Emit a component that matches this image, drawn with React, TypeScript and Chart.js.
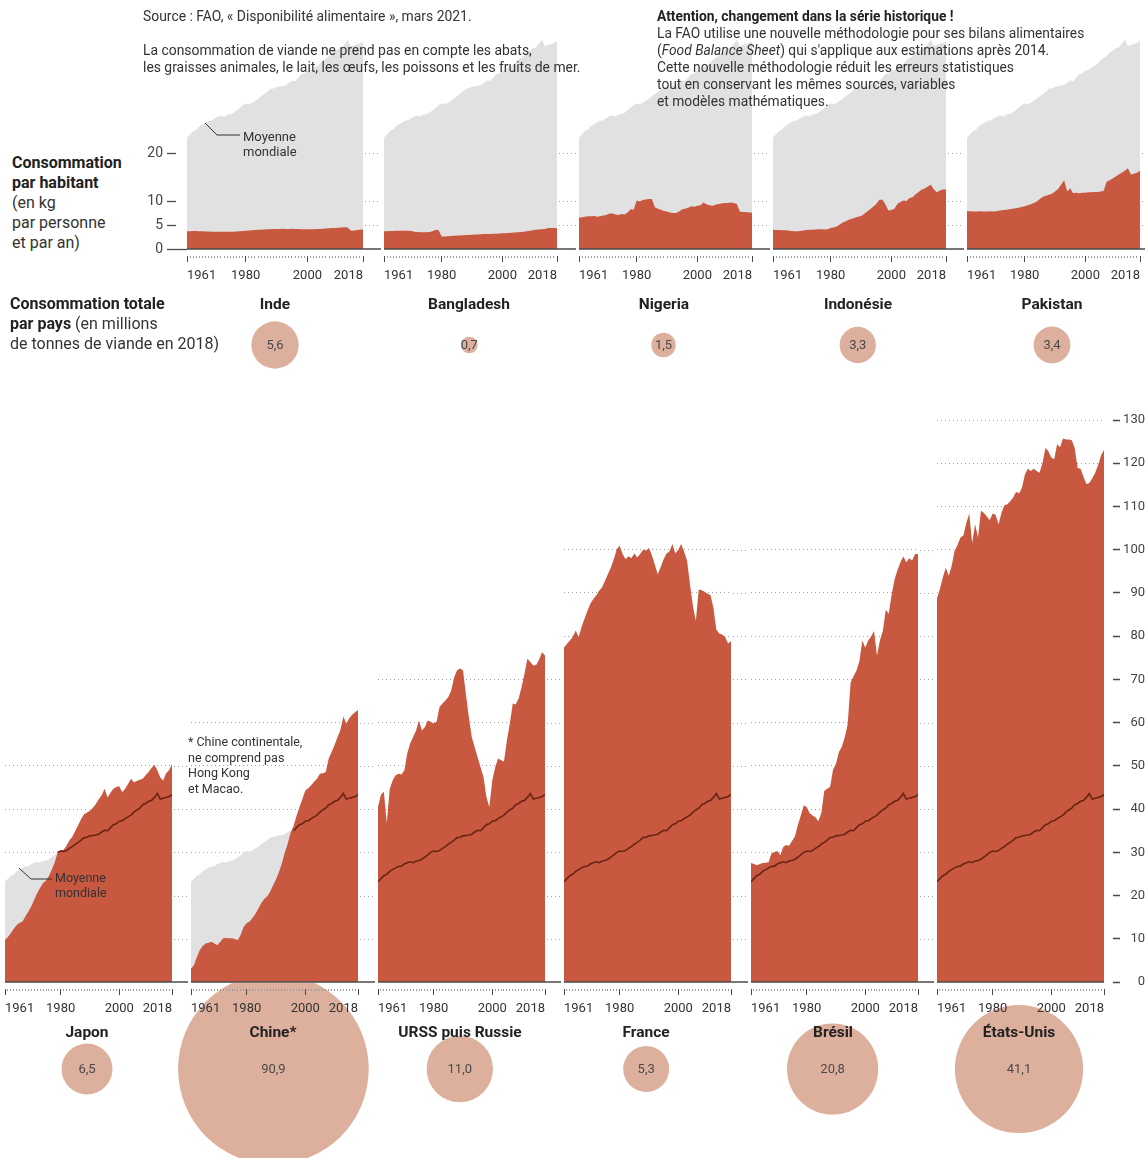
import React, { useEffect, useRef } from 'react';
import { Chart, registerables } from 'chart.js';

Chart.register(...registerables);

// ---------- DATA ----------
const FIRST_YEAR = 1961;
const LAST_YEAR = 2018;
const YEARS: number[] = Array.from({ length: LAST_YEAR - FIRST_YEAR + 1 }, (_, i) => FIRST_YEAR + i);
const MAJOR_YEARS = [1961, 1980, 2000, 2018];

// kg per person per year
const WORLD = [
  23.2, 23.9, 24.6, 24.9, 25.6, 26.0, 26.4, 26.7, 26.8, 27.3,
  27.6, 27.8, 27.6, 28.0, 28.1, 28.4, 28.9, 29.4, 30.0, 30.3,
  30.2, 30.4, 30.9, 31.3, 31.9, 32.3, 32.8, 33.4, 33.5, 33.8,
  33.9, 34.0, 34.2, 34.7, 35.1, 35.0, 35.7, 36.4, 36.6, 37.2,
  37.3, 37.8, 38.2, 38.6, 39.3, 39.8, 40.2, 41.0, 41.3, 41.8,
  42.0, 42.7, 43.6, 42.3, 42.5, 42.7, 42.9, 43.3,
];

const INDE = [
  3.7, 3.7, 3.75, 3.75, 3.7, 3.7, 3.65, 3.65, 3.6, 3.6,
  3.6, 3.6, 3.6, 3.6, 3.6, 3.6, 3.65, 3.7, 3.75, 3.8,
  3.85, 3.9, 3.95, 4.0, 4.0, 4.05, 4.1, 4.1, 4.15, 4.2,
  4.2, 4.25, 4.2, 4.2, 4.25, 4.2, 4.15, 4.1, 4.1, 4.1,
  4.1, 4.1, 4.15, 4.2, 4.25, 4.3, 4.35, 4.4, 4.4, 4.45,
  4.5, 4.55, 4.5, 3.85, 3.8, 3.95, 4.0, 4.05,
];

const BANGLADESH = [
  3.7, 3.7, 3.75, 3.75, 3.8, 3.8, 3.8, 3.8, 3.8, 3.75,
  3.6, 3.55, 3.5, 3.5, 3.5, 3.55, 3.7, 4.0, 3.9, 2.6,
  2.6, 2.65, 2.7, 2.75, 2.8, 2.8, 2.85, 2.9, 2.9, 2.95,
  3.0, 3.0, 3.05, 3.1, 3.1, 3.15, 3.2, 3.2, 3.25, 3.3,
  3.3, 3.35, 3.4, 3.45, 3.5, 3.55, 3.6, 3.7, 3.8, 3.9,
  4.0, 4.05, 4.1, 4.15, 4.4, 4.4, 4.35, 4.3,
];

const NIGERIA = [
  6.5, 6.6, 6.7, 6.8, 6.8, 6.9, 6.7, 6.8, 7.0, 7.1,
  7.4, 7.4, 7.2, 7.1, 7.3, 7.2, 7.6, 8.3, 8.2, 10.1,
  9.9, 10.2, 10.3, 10.4, 10.4, 8.7, 8.4, 8.2, 7.9, 7.8,
  7.6, 7.5, 7.5, 7.8, 8.3, 8.4, 8.6, 8.9, 8.8, 9.0,
  9.1, 9.7, 9.3, 9.1, 9.0, 9.2, 9.4, 9.5, 9.6, 9.6,
  9.7, 9.6, 9.4, 7.8, 7.7, 7.7, 7.6, 7.6,
];

const INDONESIE = [
  4.0, 3.95, 3.95, 3.9, 3.9, 3.85, 3.75, 3.7, 3.7, 3.75,
  3.85, 3.95, 4.0, 4.0, 4.05, 4.1, 4.1, 4.05, 4.1, 4.35,
  4.5, 4.7, 5.1, 5.5, 5.8, 6.1, 6.3, 6.5, 6.7, 6.9,
  7.3, 7.8, 8.3, 8.8, 9.4, 10.2, 10.3, 9.3, 8.0, 8.1,
  8.4, 9.4, 9.8, 10.1, 10.0, 10.6, 10.8, 11.4, 11.9, 12.4,
  12.6, 13.0, 13.4, 12.4, 11.8, 12.2, 12.4, 12.4,
];

const PAKISTAN = [
  7.9, 7.85, 7.8, 7.8, 7.85, 7.8, 7.8, 7.8, 7.85, 7.8,
  7.9, 8.0, 8.1, 8.2, 8.3, 8.4, 8.5, 8.6, 8.75, 8.9,
  9.1, 9.3, 9.6, 9.9, 10.4, 10.9, 11.1, 11.3, 11.5, 12.0,
  12.5, 13.4, 14.3, 12.0, 12.6, 11.6, 11.7, 11.6, 11.7, 11.7,
  11.8, 11.8, 11.9, 11.9, 12.0, 12.1, 14.0, 14.3, 14.7, 15.1,
  15.5, 15.9, 16.3, 16.8, 15.5, 15.7, 15.9, 16.3,
];

const JAPON = [
  9.7, 10.4, 11.3, 12.3, 13.2, 13.7, 14.0, 15.2, 16.3, 17.5,
  19.1, 20.6, 21.8, 22.9, 23.5, 24.5, 26.0, 27.7, 30.0, 30.4,
  30.6, 31.5, 32.8, 33.6, 35.0, 36.3, 37.7, 38.8, 39.2, 39.6,
  40.3, 41.2, 42.3, 43.2, 44.7, 42.7, 43.8, 44.7, 45.1, 45.3,
  43.9, 44.7, 45.8, 47.0, 46.2, 46.5, 46.8, 47.0, 47.8, 48.6,
  49.5, 50.2, 49.0, 47.3, 46.6, 48.3, 49.0, 50.4,
];

const CHINE = [
  3.1, 3.9, 5.8, 7.4, 8.3, 8.9, 9.1, 9.3, 8.9, 8.5,
  9.3, 10.1, 10.2, 10.1, 10.1, 9.9, 9.7, 11.0, 12.8, 13.6,
  14.0, 14.8, 15.8, 17.0, 18.3, 19.2, 19.8, 20.9, 22.3, 23.7,
  25.4, 27.4, 29.9, 32.0, 34.6, 36.1, 38.4, 40.4, 42.3, 44.3,
  44.8, 45.5, 46.3, 47.0, 48.2, 48.3, 48.6, 51.7, 53.2, 54.8,
  56.6, 58.3, 61.4, 59.8, 61.0, 61.8, 62.4, 62.9,
];

const URSS = [
  40.5, 43.3, 44.0, 36.7, 44.7, 46.6, 47.8, 48.2, 48.0, 49.0,
  52.9, 55.2, 56.7, 58.2, 60.5, 58.2, 59.0, 60.5, 60.2, 59.8,
  60.2, 63.6, 64.4, 65.1, 65.9, 67.4, 70.5, 72.1, 72.5, 72.1,
  66.7, 61.3, 56.7, 54.3, 52.0, 49.7, 47.4, 42.8, 40.5, 46.6,
  49.7, 51.7, 51.3, 51.0, 55.9, 59.8, 64.4, 64.2, 65.6, 68.2,
  71.3, 74.8, 74.0, 73.2, 73.3, 74.6, 76.3, 75.5,
];

const FRANCE = [
  77.4, 78.2, 79.0, 79.8, 81.3, 79.8, 82.1, 84.0, 85.9, 87.5,
  88.6, 89.4, 90.5, 91.3, 92.8, 94.4, 95.9, 97.8, 100.1, 100.9,
  99.0, 97.8, 98.5, 98.0, 99.1, 98.2, 99.0, 100.0, 99.8, 100.4,
  98.7, 96.5, 94.3, 96.0, 97.8, 99.1, 99.6, 101.3, 99.1, 100.0,
  101.3, 99.5, 97.5, 92.0, 87.0, 83.5, 90.8, 90.6, 90.3, 89.8,
  89.5, 86.5, 81.5, 80.6, 80.4, 79.8, 78.3, 78.9,
];

const BRESIL = [
  27.5, 27.3, 27.0, 27.3, 27.5, 27.6, 27.7, 29.7, 30.1, 30.3,
  29.3, 31.2, 31.7, 31.5, 32.6, 33.7, 36.3, 38.5, 40.9, 40.5,
  39.1, 38.5, 38.1, 37.2, 39.1, 44.2, 44.7, 45.1, 49.1, 50.4,
  53.2, 54.4, 56.6, 59.6, 69.3, 70.7, 72.0, 74.2, 79.0, 77.3,
  79.0, 79.9, 81.2, 75.5, 79.0, 81.2, 86.1, 85.2, 89.6, 93.1,
  95.3, 97.1, 98.4, 97.1, 98.0, 97.5, 99.0, 99.0,
];

const ETATS_UNIS = [
  88.7, 90.9, 93.6, 95.8, 94.0, 96.2, 99.7, 101.1, 102.8, 103.3,
  106.1, 108.4, 101.5, 105.9, 102.8, 109.0, 108.5, 107.7, 106.8, 108.4,
  108.1, 105.9, 108.5, 110.3, 110.5, 111.2, 112.1, 113.4, 113.0, 114.3,
  117.4, 118.7, 118.2, 118.7, 118.2, 117.8, 120.0, 123.5, 122.8, 121.3,
  120.9, 124.4, 123.7, 125.7, 125.5, 125.5, 125.3, 123.5, 118.9, 118.7,
  116.9, 115.2, 115.4, 116.5, 117.8, 119.6, 121.8, 123.1,
];

const TOP_NAMES = ['Inde', 'Bangladesh', 'Nigeria', 'Indonésie', 'Pakistan'];
const TOP_SERIES = [INDE, BANGLADESH, NIGERIA, INDONESIE, PAKISTAN];
const TOP_TOTALS = [5.6, 0.7, 1.5, 3.3, 3.4]; // millions of tonnes, 2018

const BOTTOM_NAMES = ['Japon', 'Chine*', 'URSS puis Russie', 'France', 'Brésil', 'États-Unis'];
const BOTTOM_SERIES = [JAPON, CHINE, URSS, FRANCE, BRESIL, ETATS_UNIS];
const BOTTOM_TOTALS = [6.5, 90.9, 11.0, 5.3, 20.8, 41.1];

const TOP_Y_TICKS = [0, 5, 10, 20];
const BOTTOM_Y_TICKS = [0, 10, 20, 30, 40, 50, 60, 70, 80, 90, 100, 110, 120, 130];

// ---------- STYLE / LAYOUT ----------
const PAGE_W = 1145;
const FONT = 'Roboto, "Noto Sans", "DejaVu Sans", sans-serif';
const RED = '#c8583f';
const GRAY_AREA = '#e1e1e1';
const WORLD_LINE = '#6a2315';
const GRID = '#9e9e9e';
const AXIS = '#4a4a4a';
const MINOR_TICK = '#9a9a9a';
const BUBBLE = '#ddb09e';
const TEXT = '#333333';

const PAD_TOP = 12;
const X_AXIS_H = 38;

const TOP_ROW = { plotLefts: [187, 381, 576, 770, 964], plotWidth: 176, areaTop: 33, areaBottom: 249, yMax: 45, axisW: 47 };
const BOTTOM_ROW = { plotLefts: [2, 188, 375, 561, 748, 934], plotWidth: 170, areaTop: 420, areaBottom: 982, yMax: 130 };
const BOTTOM_GRID_MAX = [50, 60, 70, 100, 100, 130];
const TOP_GRID_MAX = 20;
const BUBBLE_SCALE = 10; // radius px per sqrt(million tonnes)

type Geom = { left: number; top: number; width: number; height: number; axisW: number; gapRight: number; axis: 'left' | 'right' | 'none' };

function topGeom(i: number): Geom {
  const pl = TOP_ROW.plotLefts[i];
  const next = i < TOP_ROW.plotLefts.length - 1 ? TOP_ROW.plotLefts[i + 1] : PAGE_W;
  const axisW = i === 0 ? TOP_ROW.axisW : 0;
  const left = pl - axisW;
  return {
    left,
    top: TOP_ROW.areaTop - PAD_TOP,
    width: next - left,
    height: PAD_TOP + (TOP_ROW.areaBottom - TOP_ROW.areaTop) + X_AXIS_H,
    axisW,
    gapRight: next - pl - TOP_ROW.plotWidth,
    axis: i === 0 ? 'left' : 'none',
  };
}

function bottomGeom(i: number): Geom {
  const pl = BOTTOM_ROW.plotLefts[i];
  const last = i === BOTTOM_ROW.plotLefts.length - 1;
  const next = last ? PAGE_W : BOTTOM_ROW.plotLefts[i + 1];
  const width = next - pl;
  return {
    left: pl,
    top: BOTTOM_ROW.areaTop - PAD_TOP,
    width,
    height: PAD_TOP + (BOTTOM_ROW.areaBottom - BOTTOM_ROW.areaTop) + X_AXIS_H,
    axisW: last ? width - BOTTOM_ROW.plotWidth : 0,
    gapRight: last ? 0 : width - BOTTOM_ROW.plotWidth,
    axis: last ? 'right' : 'none',
  };
}

const fmt = (v: number) => v.toFixed(1).replace('.', ',');

// gridlines continued into the gap at the right of each panel + baseline on top
const gapGrid = {
  id: 'gapGrid',
  beforeDatasetsDraw(chart: any, _a: any, opts: any) {
    const { ctx, chartArea } = chart;
    const ys = chart.scales.y;
    const x0 = chartArea.right;
    const x1 = chartArea.right + (opts.gapRight || 0);
    if (x1 - x0 < 1) return;
    ctx.save();
    ctx.strokeStyle = GRID;
    ctx.lineWidth = 1;
    ctx.setLineDash([1, 3]);
    ys.ticks.forEach((t: any) => {
      if (t.value <= 0 || t.value > opts.gridMax) return;
      const py = Math.round(ys.getPixelForValue(t.value)) + 0.5;
      ctx.beginPath();
      ctx.moveTo(x0 + 2, py);
      ctx.lineTo(x1, py);
      ctx.stroke();
    });
    ctx.restore();
  },
  afterDatasetsDraw(chart: any, _a: any, opts: any) {
    const { ctx, chartArea } = chart;
    const ys = chart.scales.y;
    const py = ys.getPixelForValue(0);
    ctx.save();
    ctx.strokeStyle = AXIS;
    ctx.lineWidth = 1.5;
    ctx.setLineDash([]);
    ctx.beginPath();
    ctx.moveTo(chartArea.left, py);
    ctx.lineTo(chartArea.right + (opts.gapRight || 0), py);
    ctx.stroke();
    ctx.restore();
  },
};

const bubbleLabels = {
  id: 'bubbleLabels',
  afterDatasetsDraw(chart: any) {
    const { ctx } = chart;
    const meta = chart.getDatasetMeta(0);
    const raw = chart.data.datasets[0].data;
    ctx.save();
    ctx.font = `13px ${FONT}`;
    ctx.fillStyle = '#4a4a4a';
    ctx.textAlign = 'center';
    ctx.textBaseline = 'middle';
    meta.data.forEach((el: any, i: number) => ctx.fillText(fmt(raw[i].v), el.x, el.y + 1));
    ctx.restore();
  },
};

function panelConfig(country: number[], g: Geom, yMax: number, yTicks: number[], gridMax: number, showLine: boolean): any {
  const pts = (arr: number[]) => YEARS.map((x, i) => ({ x, y: arr[i] }));
  const datasets: any[] = [];
  if (showLine) {
    datasets.push({
      data: pts(WORLD),
      borderColor: WORLD_LINE,
      borderWidth: 1.6,
      fill: false,
      pointRadius: 0,
      segment: {
        borderColor: (c: any) =>
          country[c.p0DataIndex] >= WORLD[c.p0DataIndex] && country[c.p1DataIndex] >= WORLD[c.p1DataIndex]
            ? WORLD_LINE
            : 'rgba(0,0,0,0)',
      },
    });
  }
  datasets.push({ data: pts(country), fill: 'origin', backgroundColor: RED, borderWidth: 0, borderColor: 'rgba(0,0,0,0)', pointRadius: 0 });
  datasets.push({ data: pts(WORLD), fill: 'origin', backgroundColor: GRAY_AREA, borderWidth: 0, borderColor: 'rgba(0,0,0,0)', pointRadius: 0 });

  const isLeft = g.axis === 'left';
  const isRight = g.axis === 'right';
  return {
    type: 'line',
    data: { datasets },
    plugins: [gapGrid],
    options: {
      responsive: true,
      maintainAspectRatio: false,
      animation: false,
      devicePixelRatio: 1,
      events: [],
      layout: { padding: { top: PAD_TOP, right: g.gapRight, left: 0, bottom: 0 } },
      elements: { line: { tension: 0 }, point: { radius: 0 } },
      plugins: {
        legend: { display: false },
        tooltip: { enabled: false },
        gapGrid: { gapRight: g.gapRight, gridMax },
      },
      scales: {
        x: {
          type: 'linear',
          min: FIRST_YEAR,
          max: LAST_YEAR,
          afterBuildTicks: (s: any) => {
            s.ticks = YEARS.map((v) => ({ value: v }));
          },
          afterFit: (s: any) => {
            s.height = X_AXIS_H;
          },
          ticks: {
            autoSkip: false,
            maxRotation: 0,
            minRotation: 0,
            align: 'inner',
            padding: 3,
            color: TEXT,
            font: { family: FONT, size: 13 },
            callback: (v: any) => (MAJOR_YEARS.includes(Number(v)) ? String(v) : ''),
          },
          grid: {
            drawOnChartArea: false,
            drawTicks: true,
            tickLength: 16,
            tickWidth: 1,
            tickColor: (c: any) => (c.tick && MAJOR_YEARS.includes(c.tick.value) ? AXIS : MINOR_TICK),
            tickBorderDash: (c: any) => (c.tick && MAJOR_YEARS.includes(c.tick.value) ? [0, 7, 6, 100] : [0, 7, 2, 100]),
          },
          border: { display: false },
        },
        y: {
          type: 'linear',
          position: isRight ? 'right' : 'left',
          min: 0,
          max: yMax,
          afterBuildTicks: (s: any) => {
            s.ticks = yTicks.map((v) => ({ value: v }));
          },
          afterFit: (s: any) => {
            s.width = g.axisW;
          },
          ticks: {
            display: isLeft || isRight,
            padding: isLeft ? 4 : 3,
            crossAlign: isRight ? 'far' : 'near',
            color: '#444',
            font: { family: FONT, size: isLeft ? 14 : 13 },
            callback: (v: any) => String(v),
          },
          grid: {
            drawTicks: isLeft || isRight,
            tickLength: isLeft ? 20 : 16,
            tickWidth: 1.3,
            tickColor: AXIS,
            tickBorderDash: (c: any) => (isLeft ? (c.tick && c.tick.value === 0 ? [] : [9, 100]) : [0, 9, 7, 100]),
            lineWidth: 1,
            color: (c: any) => {
              const v = c.tick ? c.tick.value : 0;
              return v > 0 && v <= gridMax ? GRID : 'rgba(0,0,0,0)';
            },
          },
          border: { display: false, dash: [1, 3] },
        },
      },
    },
  };
}

function bubbleConfig(totals: number[], centers: number[], height: number, centerY: number): any {
  const unit = (centers[centers.length - 1] - centers[0]) / (centers.length - 1);
  const xMin = -centers[0] / unit;
  const xMax = xMin + PAGE_W / unit;
  return {
    type: 'bubble',
    data: {
      datasets: [
        {
          data: totals.map((v, i) => ({ x: i, y: 0, r: BUBBLE_SCALE * Math.sqrt(v), v })),
          backgroundColor: BUBBLE,
          borderWidth: 0,
          clip: false,
        },
      ],
    },
    plugins: [bubbleLabels],
    options: {
      responsive: true,
      maintainAspectRatio: false,
      animation: false,
      devicePixelRatio: 1,
      events: [],
      layout: { padding: 0, autoPadding: false },
      plugins: { legend: { display: false }, tooltip: { enabled: false } },
      scales: {
        x: { type: 'linear', display: false, min: xMin, max: xMax },
        y: { type: 'linear', display: false, min: -(height - centerY), max: centerY },
      },
    },
  };
}

const TOP_CENTERS = TOP_ROW.plotLefts.map((l) => l + TOP_ROW.plotWidth / 2);
const BOTTOM_CENTERS = BOTTOM_ROW.plotLefts.map((l) => l + BOTTOM_ROW.plotWidth / 2);
const TOP_BUBBLE_BOX = { top: 300, height: 90, centerY: 45 };
const BOTTOM_BUBBLE_BOX = { top: 983, height: 175, centerY: 86 };

const abs = (left: number, top: number, extra: any = {}): React.CSSProperties => ({
  position: 'absolute',
  left,
  top,
  whiteSpace: 'nowrap',
  ...extra,
});

export default function App() {
  const topRefs = useRef<(HTMLCanvasElement | null)[]>([]);
  const bottomRefs = useRef<(HTMLCanvasElement | null)[]>([]);
  const topBubbleRef = useRef<HTMLCanvasElement | null>(null);
  const bottomBubbleRef = useRef<HTMLCanvasElement | null>(null);

  useEffect(() => {
    const charts: Chart[] = [];
    if (topBubbleRef.current)
      charts.push(new Chart(topBubbleRef.current, bubbleConfig(TOP_TOTALS, TOP_CENTERS, TOP_BUBBLE_BOX.height, TOP_BUBBLE_BOX.centerY)));
    if (bottomBubbleRef.current)
      charts.push(
        new Chart(bottomBubbleRef.current, bubbleConfig(BOTTOM_TOTALS, BOTTOM_CENTERS, BOTTOM_BUBBLE_BOX.height, BOTTOM_BUBBLE_BOX.centerY))
      );
    TOP_SERIES.forEach((s, i) => {
      const c = topRefs.current[i];
      if (c) charts.push(new Chart(c, panelConfig(s, topGeom(i), TOP_ROW.yMax, TOP_Y_TICKS, TOP_GRID_MAX, false)));
    });
    BOTTOM_SERIES.forEach((s, i) => {
      const c = bottomRefs.current[i];
      if (c) charts.push(new Chart(c, panelConfig(s, bottomGeom(i), BOTTOM_ROW.yMax, BOTTOM_Y_TICKS, BOTTOM_GRID_MAX[i], true)));
    });
    return () => charts.forEach((c) => c.destroy());
  }, []);

  const box = (g: { left: number; top: number; width: number; height: number }): React.CSSProperties => ({
    position: 'absolute',
    left: g.left,
    top: g.top,
    width: g.width,
    height: g.height,
  });

  return (
    <div style={{ position: 'absolute', left: 0, top: 0, width: PAGE_W, height: 1158, overflow: 'hidden', fontFamily: FONT, color: TEXT, background: '#fff' }}>
      {/* bubbles (behind) */}
      <div style={box({ left: 0, top: TOP_BUBBLE_BOX.top, width: PAGE_W, height: TOP_BUBBLE_BOX.height })}>
        <canvas ref={topBubbleRef} />
      </div>
      <div style={box({ left: 0, top: BOTTOM_BUBBLE_BOX.top, width: PAGE_W, height: BOTTOM_BUBBLE_BOX.height })}>
        <canvas ref={bottomBubbleRef} />
      </div>

      {/* panels */}
      {TOP_SERIES.map((_, i) => (
        <div key={'t' + i} style={box(topGeom(i))}>
          <canvas ref={(el) => { topRefs.current[i] = el; }} />
        </div>
      ))}
      {BOTTOM_SERIES.map((_, i) => (
        <div key={'b' + i} style={box(bottomGeom(i))}>
          <canvas ref={(el) => { bottomRefs.current[i] = el; }} />
        </div>
      ))}

      {/* texts */}
      <div style={abs(143, 7.5, { fontSize: 13.9, lineHeight: '17px' })}>
        Source : FAO, « Disponibilité alimentaire », mars 2021.
        <br />
        <br />
        La consommation de viande ne prend pas en compte les abats,
        <br />
        les graisses animales, le lait, les œufs, les poissons et les fruits de mer.
      </div>
      <div style={abs(657, 7.5, { fontSize: 13.8, lineHeight: '17px' })}>
        <b style={{ color: '#222' }}>Attention, changement dans la série historique !</b>
        <br />
        La FAO utilise une nouvelle méthodologie pour ses bilans alimentaires
        <br />
        (<i>Food Balance Sheet</i>) qui s'applique aux estimations après 2014.
        <br />
        Cette nouvelle méthodologie réduit les erreurs statistiques
        <br />
        tout en conservant les mêmes sources, variables
        <br />
        et modèles mathématiques.
      </div>

      <div style={abs(12, 153, { fontSize: 16, lineHeight: '20px' })}>
        <b style={{ color: '#222' }}>Consommation</b>
        <br />
        <b style={{ color: '#222' }}>par habitant</b>
        <br />
        (en kg
        <br />
        par personne
        <br />
        et par an)
      </div>
      <div style={abs(10, 294, { fontSize: 16, lineHeight: '20px' })}>
        <b style={{ color: '#222' }}>Consommation totale</b>
        <br />
        <b style={{ color: '#222' }}>par pays</b> (en millions
        <br />
        de tonnes de viande en 2018)
      </div>

      {TOP_NAMES.map((n, i) => (
        <div key={'tn' + i} style={abs(TOP_CENTERS[i], 294, { transform: 'translateX(-50%)', fontSize: 15.5, lineHeight: '20px', fontWeight: 700, color: '#222' })}>
          {n}
        </div>
      ))}
      {BOTTOM_NAMES.map((n, i) => (
        <div key={'bn' + i} style={abs(BOTTOM_CENTERS[i], 1022, { transform: 'translateX(-50%)', fontSize: 15.5, lineHeight: '20px', fontWeight: 700, color: '#222' })}>
          {n}
        </div>
      ))}

      <div style={abs(243, 128.5, { fontSize: 13, lineHeight: '15px' })}>
        Moyenne
        <br />
        mondiale
      </div>
      <div style={abs(55, 870, { fontSize: 12.5, lineHeight: '15px' })}>
        Moyenne
        <br />
        mondiale
      </div>
      <div style={abs(188, 734, { fontSize: 12.5, lineHeight: '15.5px' })}>
        * Chine continentale,
        <br />
        ne comprend pas
        <br />
        Hong Kong
        <br />
        et Macao.
      </div>

      <svg width={PAGE_W} height={1158} style={{ position: 'absolute', left: 0, top: 0, pointerEvents: 'none' }}>
        <polyline points="205,123 217,135 240,135" fill="none" stroke="#333" strokeWidth={1} />
        <polyline points="19,868 31,879 52,879" fill="none" stroke="#333" strokeWidth={1} />
      </svg>
    </div>
  );
}
